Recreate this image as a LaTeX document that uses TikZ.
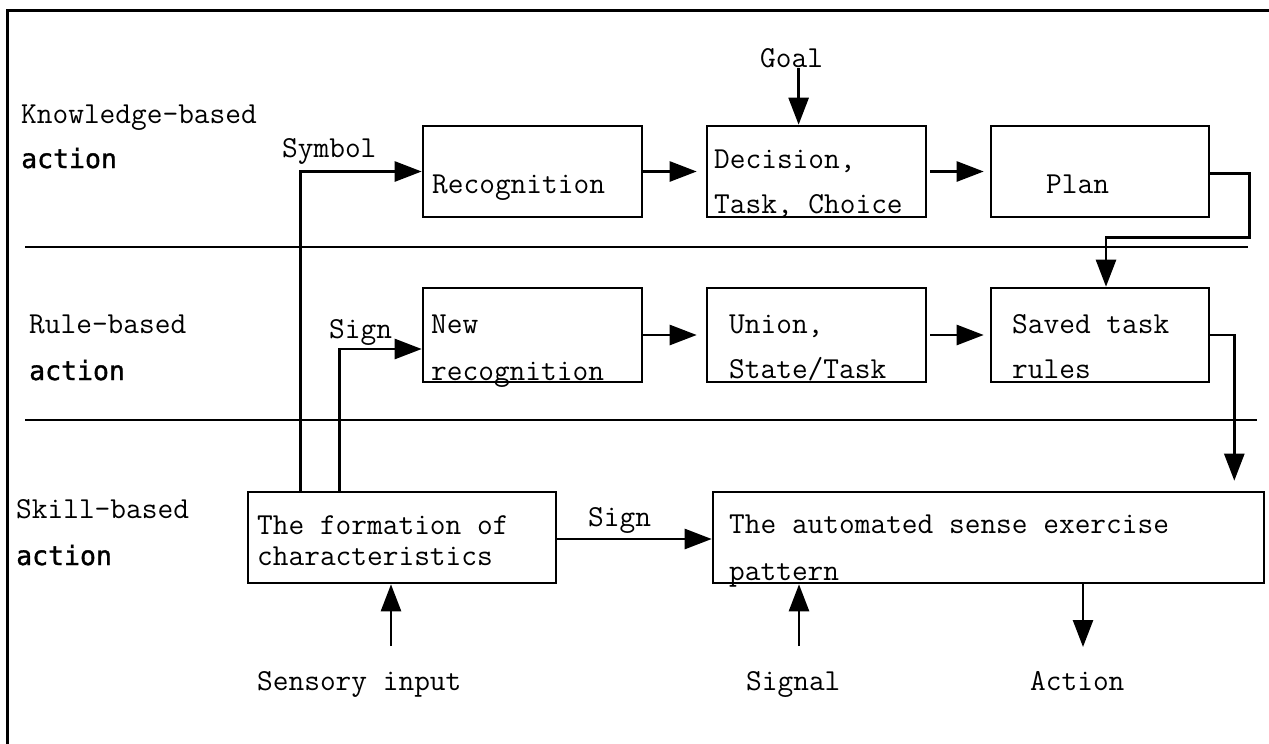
\documentclass[tikz,border=0pt]{standalone}
\usepackage{fontspec}
\usetikzlibrary{arrows.meta,calc}
\newfontfamily\actfont[FakeBold=1.2]{DejaVu Sans Mono}
\begin{document}
\begin{tikzpicture}[x=1pt,y=-1pt,
  box/.style={draw,line width=2.6pt,inner sep=0pt,minimum height=91pt,minimum width=219pt},
  txt/.style={anchor=base west,inner sep=0pt,font=\ttfamily\fontsize{30.5}{32}\selectfont},
  act/.style={anchor=base west,inner sep=0pt,font=\actfont\fontsize{26.5}{30}\selectfont},
  arr/.style={line width=2.6pt,-{Triangle[length=27pt,width=20pt]}},
  ln/.style={line width=2.6pt},
  divider/.style={line width=2.4pt}]
\useasboundingbox (0,0) rectangle (1269,744);
% frame
\draw[line width=3pt] (7,744) -- (7,10) -- (1269,10);
% dividers
\draw[divider] (25,247) -- (1248,247);
\draw[divider] (25,420) -- (1257,420);
% left labels
\node[txt] (kb) at (21,123) {Knowledge-based};
\node[act] (kba) at (21,168) {action};
\node[txt] (rb) at (29,333) {Rule-based};
\node[act] (rba) at (29,380) {action};
\node[txt] (sb) at (16,518) {Skill-based};
\node[act] (sba) at (16,565) {action};
% boxes
\node[box] (rec) at (532.5,171.5) {};
\node[box] (dec) at (816.5,171.5) {};
\node[box,minimum width=218pt] (plan) at (1100,171.5) {};
\node[box,minimum height=94pt] (newr) at (532.5,335) {};
\node[box,minimum height=94pt] (uni) at (816.5,335) {};
\node[box,minimum width=218pt,minimum height=94pt] (sav) at (1100,335) {};
\node[box,minimum width=308pt] (form) at (402,537.5) {};
\node[box,minimum width=551pt] (auto) at (988.5,537.5) {};
% box texts
\node[txt] (rect) at (432,193) {Recognition};
\node[txt] (dect1) at (714,168) {Decision,};
\node[txt] (dect2) at (714,213) {Task, Choice};
\node[txt] (plant) at (1046,193) {Plan};
\node[txt] (newt1) at (431,333) {New};
\node[txt] (newt2) at (431,380) {recognition};
\node[txt] (unit1) at (729,333) {Union,};
\node[txt] (unit2) at (729,378) {State/Task};
\node[txt] (savt1) at (1012,333) {Saved task};
\node[txt] (savt2) at (1012,378) {rules};
\node[txt] (formt1) at (257,534) {The formation of};
\node[txt] (formt2) at (257,565) {characteristics};
\node[txt] (autot1) at (729,533) {The automated sense exercise};
\node[txt] (autot2) at (729,580) {pattern};
% connector labels
\node[txt] (symbol) at (282,157) {Symbol};
\node[txt] (sign1) at (329,338) {Sign};
\node[txt] (goal) at (760,67) {Goal};
\node[txt] (sign2) at (588,526) {Sign};
\node[txt] (sens) at (257,690) {Sensory input};
\node[txt] (signal) at (746,690) {Signal};
\node[txt] (action) at (1030,690) {Action};
% connectors
\draw[arr] ($(form.north west)+(54,0)$) |- (rec.west);
\draw[arr] ($(form.north west)+(93,0)$) |- ($(newr.west)+(0,14)$);
\draw[arr,shorten >=9pt] (rec.east) -- (dec.west);
\draw[arr,shorten <=3pt,shorten >=6pt] (dec.east) -- (plan.west);
\draw[arr] ([xshift=7pt]goal.south) -- ([xshift=7pt]goal.south |- dec.north);
\draw[arr] ([yshift=-2pt]plan.east) -| ++(39,64) -| ([xshift=6pt]sav.north);
\draw[arr,shorten >=9pt] (newr.east) -- (uni.west);
\draw[arr,shorten <=3pt,shorten >=6pt] (uni.east) -- (sav.west);
\draw[arr,shorten >=10pt] (sav.east) -| ([xshift=-31pt]auto.north east);
\draw[arr] ([yshift=-1.5pt]form.east) -- ([yshift=-1.5pt]auto.west);
\coordinate (sensin) at (391,646);
\coordinate (sigin) at (799,646);
\coordinate (actout) at (1083,647);
\draw[arr] (sensin) -- (sensin |- form.south);
\draw[arr] (sigin) -- (sigin |- auto.south);
\draw[arr] (actout |- auto.south) -- (actout);
\end{tikzpicture}
\end{document}
